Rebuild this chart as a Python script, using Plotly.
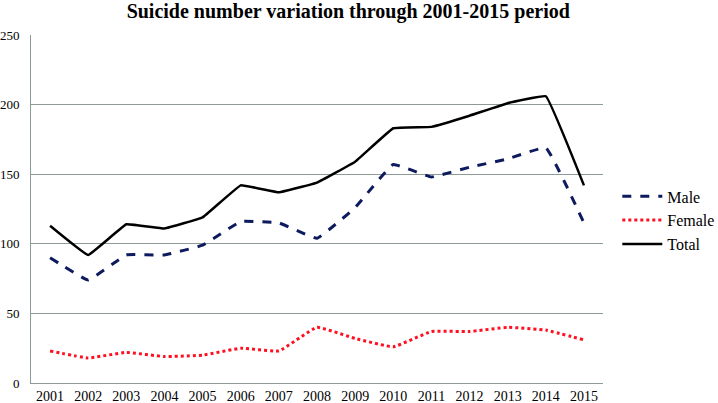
import plotly.graph_objects as go

years = [str(y) for y in range(2001, 2016)]
male = [90, 74, 92, 92, 99, 116, 115, 104, 126, 157, 148, 155, 161, 169, 115]
female = [23, 18, 22, 19, 20, 25, 23, 40, 32, 26, 37, 37, 40, 38, 31]
total = [113, 92, 114, 111, 119, 142, 137, 144, 159, 183, 184, 192, 201, 206, 142]
y_ticks = [0, 50, 100, 150, 200, 250]

fig = go.Figure()
fig.add_trace(go.Scatter(x=years, y=male, name="Male", mode="lines",
                         line=dict(color="#0d1b5e", width=3, dash="dash", shape="spline", smoothing=0.25)))
fig.add_trace(go.Scatter(x=years, y=female, name="Female", mode="lines",
                         line=dict(color="#ff1020", width=3, dash="dot", shape="spline", smoothing=0.3)))
fig.add_trace(go.Scatter(x=years, y=total, name="Total", mode="lines",
                         line=dict(color="#000000", width=2.5, shape="spline", smoothing=0.2)))

fig.update_layout(
    width=718, height=403,
    margin=dict(l=31, r=115, t=35, b=20, autoexpand=False),
    paper_bgcolor="white", plot_bgcolor="white",
    font=dict(family="Liberation Serif, Times New Roman, serif", size=14, color="black"),
    title=dict(text="<b>Suicide number variation through 2001-2015 period</b>",
               x=0.485, xanchor="center", y=0.99, yanchor="top",
               font=dict(size=20, family="Liberation Serif, serif")),
    xaxis=dict(type="category", range=[-0.5, 14.5], showgrid=False, automargin=False,
               showline=True, linecolor="#8c9a9a", linewidth=1, ticks="",
               tickfont=dict(size=14)),
    yaxis=dict(range=[0, 250], tickvals=y_ticks, showgrid=True, gridcolor="#8c9a9a",
               gridwidth=1, showline=True, linecolor="#8c9a9a", linewidth=1, automargin=False,
               zeroline=False, ticks="", ticklabelstandoff=8, tickfont=dict(size=13)),
    legend=dict(x=1.025, y=0.585, xanchor="left", yanchor="top",
                font=dict(size=16), tracegroupgap=0, itemwidth=40,
                bgcolor="rgba(0,0,0,0)"),
)

fig.write_html("out.html", config={"displayModeBar": False},
               post_script="document.body.style.margin='0px';document.body.style.overflow='hidden';")
